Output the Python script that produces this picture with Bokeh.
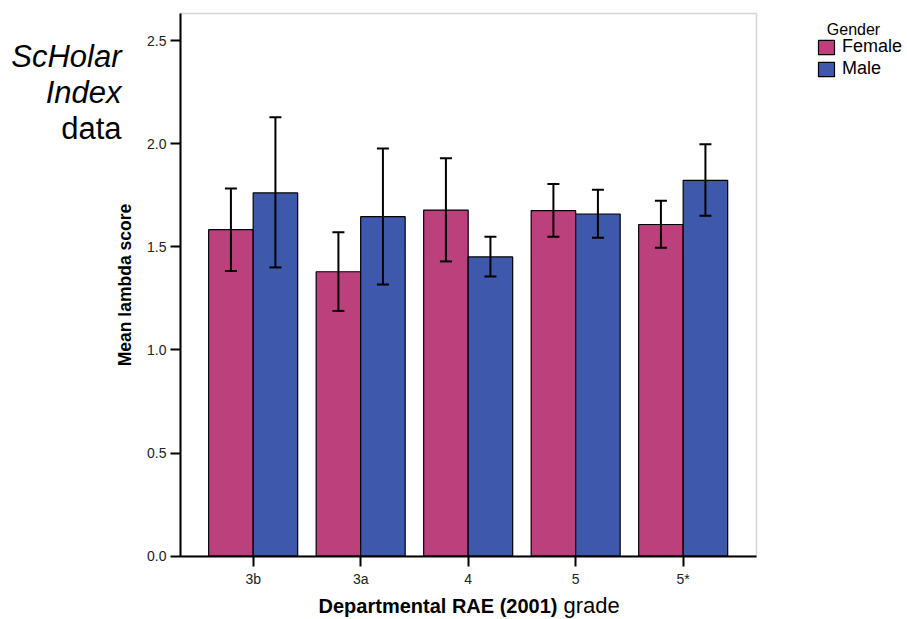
from bokeh.plotting import figure
from bokeh.models import (ColumnDataSource, Whisker, TeeHead, FixedTicker, Range1d,
                          Label, Legend, LegendItem, NumeralTickFormatter, BoxAnnotation)
from bokeh.embed import file_html
from bokeh.resources import INLINE

grades = ["3b", "3a", "4", "5", "5*"]
female_mean = [1.583, 1.379, 1.678, 1.675, 1.608]
female_lower = [1.382, 1.189, 1.429, 1.549, 1.495]
female_upper = [1.783, 1.570, 1.929, 1.804, 1.723]
male_mean = [1.761, 1.646, 1.451, 1.659, 1.822]
male_lower = [1.400, 1.317, 1.356, 1.544, 1.650]
male_upper = [2.128, 1.977, 1.549, 1.777, 1.997]
y_ticks = [0.0, 0.5, 1.0, 1.5, 2.0, 2.5]

FEMALE = "#BC407C"
MALE = "#3E59AB"
FONT = "Liberation Sans"
BW = 0.414

# plot box (data units) and canvas geometry
X0, X1 = -0.676, 4.682
Y0, Y1 = 0.0, 2.631
W, H = 907, 619
PX_X = 107.5           # pixels per category
PX_Y = 206.28          # pixels per unit of score
LEFT_PX, BOTTOM_PX = 180.0, 555.7

xmin = X0 - LEFT_PX / PX_X
xmax = xmin + W / PX_X
ymax = BOTTOM_PX / PX_Y
ymin = ymax - H / PX_Y

idx = list(range(len(grades)))
src_f = ColumnDataSource(dict(x=[i - BW / 2 for i in idx], top=female_mean,
                              lower=female_lower, upper=female_upper))
src_m = ColumnDataSource(dict(x=[i + BW / 2 for i in idx], top=male_mean,
                              lower=male_lower, upper=male_upper))

p = figure(width=W, height=H, output_backend="svg", toolbar_location=None,
           x_range=Range1d(xmin, xmax), y_range=Range1d(ymin, ymax),
           min_border=0, outline_line_color=None)
p.xgrid.visible = False
p.ygrid.visible = False

p.add_layout(BoxAnnotation(left=X0, right=X1, bottom=Y0, top=Y1, fill_alpha=0,
                           line_color="#777777", line_width=1.5, level="underlay"))

rf = p.vbar(x="x", top="top", bottom=0, width=BW, source=src_f, fill_color=FEMALE,
            line_color="black", line_width=1.2)
rm = p.vbar(x="x", top="top", bottom=0, width=BW, source=src_m, fill_color=MALE,
            line_color="black", line_width=1.2)

for s in (src_f, src_m):
    w = Whisker(base="x", upper="upper", lower="lower", source=s, line_color="black",
                line_width=2, level="overlay",
                upper_head=TeeHead(size=12, line_width=2, line_color="black"),
                lower_head=TeeHead(size=12, line_width=2, line_color="black"))
    p.add_layout(w)

# axes
for ax in (p.xaxis[0], p.yaxis[0]):
    ax.axis_line_width = 2
    ax.axis_line_color = "black"
    ax.major_tick_line_width = 2
    ax.major_tick_out = 10
    ax.major_tick_in = 0
    ax.minor_tick_line_color = None
    ax.major_label_text_font = FONT
    ax.major_label_text_font_size = "14px"
    ax.major_label_text_color = "#222222"

p.yaxis.fixed_location = X0
p.yaxis.bounds = (Y0, Y1)
p.yaxis.ticker = FixedTicker(ticks=y_ticks)
p.yaxis.formatter = NumeralTickFormatter(format="0.0")
p.yaxis.major_label_standoff = 4
p.yaxis.axis_label = "Mean lambda score"
p.yaxis.axis_label_text_font = FONT
p.yaxis.axis_label_text_font_style = "bold"
p.yaxis.axis_label_text_font_size = "17.5px"
p.yaxis.axis_label_text_color = "black"
p.yaxis.axis_label_standoff = 9

p.xaxis.fixed_location = Y0
p.xaxis.bounds = (X0, X1)
p.xaxis.ticker = FixedTicker(ticks=idx)
p.xaxis.major_label_overrides = {i: g for i, g in zip(idx, grades)}
p.xaxis.major_label_standoff = 5

# x-axis title (bold + normal parts), canvas pixel positions
p.add_layout(Label(x=557, y=605, x_units="canvas", y_units="canvas",
                   text="Departmental RAE (2001)", text_align="right",
                   text_baseline="alphabetic", text_font=FONT, text_font_style="bold",
                   text_font_size="20px", text_color="black"))
p.add_layout(Label(x=563, y=605, x_units="canvas", y_units="canvas",
                   text="grade", text_align="left",
                   text_baseline="alphabetic", text_font=FONT, text_font_size="22px",
                   text_color="black"))

# side text
for txt, yy, st in (("ScHolar", 56, "italic"), ("Index", 92, "italic"),
                    ("data", 128, "normal")):
    p.add_layout(Label(x=121, y=yy, x_units="canvas", y_units="canvas", text=txt,
                       text_align="right", text_baseline="alphabetic", text_font=FONT,
                       text_font_style=st, text_font_size="31px",
                       text_color="black"))

# legend
p.add_layout(Label(x=853, y=29, x_units="canvas", y_units="canvas", text="Gender",
                   text_align="center", text_baseline="alphabetic", text_font=FONT,
                   text_font_size="16px", text_color="black"))
legend = Legend(items=[LegendItem(label="Female", renderers=[rf]),
                       LegendItem(label="Male", renderers=[rm])],
                location=(816, H - 79), padding=0, margin=0, spacing=1,
                glyph_height=18, glyph_width=20, label_standoff=6,
                label_text_font=FONT, label_text_font_size="18px",
                label_text_color="black", label_height=21,
                border_line_alpha=0, background_fill_alpha=0)
p.add_layout(legend)

open("out.html", "w").write(file_html(p, INLINE))
